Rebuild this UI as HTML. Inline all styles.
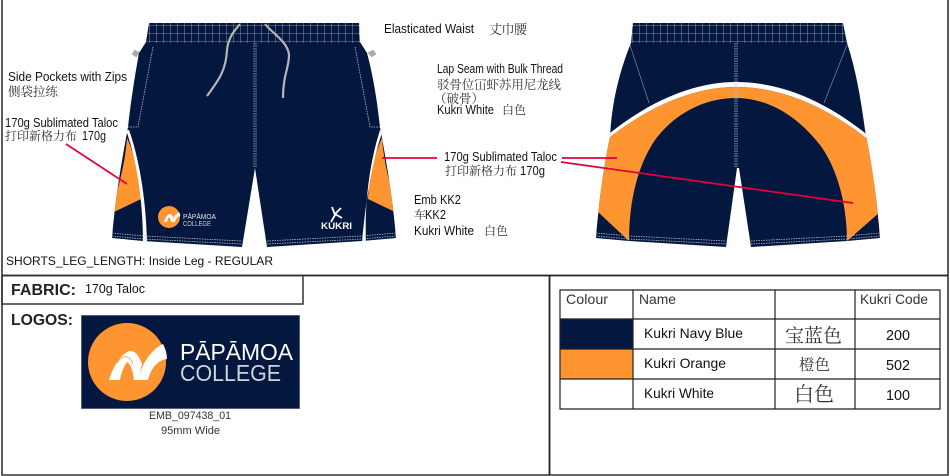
<!DOCTYPE html>
<html><head><meta charset="utf-8"><style>
html,body{margin:0;padding:0;background:#fff}
svg{display:block}
text{font-family:"Liberation Sans","Noto Sans CJK SC",sans-serif;fill:#111;font-size:13px}
.c{font-family:"Liberation Serif","Noto Serif CJK SC",serif;fill:#333}
.b{font-weight:bold;fill:#222}
.st{fill:none;stroke:#b4bbcb;stroke-width:.8;stroke-dasharray:1.500 1}
.gr{fill:none;stroke:#8d97ae;stroke-width:.6}
</style></head><body>
<svg width="950" height="476" viewBox="0 0 950 476" xmlns="http://www.w3.org/2000/svg">
<defs>
<pattern id="g" x="2" y="25" width="7" height="8" patternUnits="userSpaceOnUse"><path d="M0 0V8M0 0H7" stroke="#a8b0c4" stroke-width=".8" fill="none"/></pattern>
<clipPath id="fc"><path d="M149 23H359L360 42L367 53C373 75 377 100 380 127C387 165 393 200 396 238L362 241L267 247L255 168L242 247L143 241L112 238C115 200 121 165 128 127C131 100 135 75 139 53L146 42Z"/></clipPath>
<clipPath id="bc"><path d="M633 23H843L847 43C856 70 861 100 865 130C872 165 877 200 880 238L847 241L751 247L739 168H737L726 247L629 241L596 238C599 200 604 165 610 137C612 100 620 70 631 43Z"/></clipPath>
</defs>

<!-- frame -->
<path d="M2 0V475H948V0" fill="none" stroke="#333" stroke-width="1.600"/>
<path d="M2 275.500H948M549.500 275V475" fill="none" stroke="#222" stroke-width="1.800"/>
<rect x="2" y="275.500" width="301" height="28.500" fill="none" stroke="#333" stroke-width="1.500"/>

<!-- front shorts -->
<path d="M139 53l-4 -2l-2 3l3 2zM369 53l4 -2l2 3l-3 2z" fill="#aaa" stroke="#aaa" stroke-width="2"/>
<g clip-path="url(#fc)">
<rect x="100" y="15" width="310" height="240" fill="#03173f"/>
<rect x="145" y="23" width="218" height="20" fill="url(#g)"/>
<path d="M127 138C125 165 118 190 110 214L141 199C140 178 135 155 127 138Z" fill="#ff9530"/>
<path d="M382 138C384 165 391 190 399 214L368 199C369 178 374 155 382 138Z" fill="#ff9530"/>
<path d="M126 130C135 155 143 195 143 243H147C146 195 138 155 129 130Z" fill="#fff"/>
<path d="M383 130C374 155 366 195 362 243H366C364 195 372 155 380 130Z" fill="#fff"/>
</g>
<path d="M153 47L138 127H128M355 47L370 127H380" class="st"/>
<path d="M254 43V168M256 43V168" class="st"/>
<path d="M112 233L143 236L242 241M267 241L362 236L396 233M112 236L143 239L242 244M267 244L362 239L396 236" class="st"/>
<path d="M240 24C232 33 228 40 227 50C226 72 217 82 207 96" fill="none" stroke="#b5b5b5" stroke-width="2.200"/>
<path d="M265 24C273 34 288 42 289 55C289 68 283 75 283 98" fill="none" stroke="#b5b5b5" stroke-width="2.200"/>
<circle cx="169" cy="217" r="11" fill="#ff9530"/>
<g transform="translate(169 217) scale(.28) translate(-127 -362)" fill="#fff">
<path d="M109 380C113 367 120 355 129 351C135 350 139 356 142 364L138 380H134C133 372 131 364 127 362C124 366 121 373 120 380Z"/>
<path d="M138 380C141 366 150 350 163 344C165 348 167 353 167 359C158 360 151 368 148 380Z"/>
</g>
<text x="183" y="219" textLength="33" lengthAdjust="spacingAndGlyphs" style="fill:#e6e8ee;font-size:7px">PĀPĀMOA</text>
<text x="183" y="226" textLength="28" lengthAdjust="spacingAndGlyphs" style="fill:#c8ccd6;font-size:7px">COLLEGE</text>
<path d="M332 207L335 215L331 222M341 208L335 214L342 218" fill="none" stroke="#fff" stroke-width="1.800"/>
<text x="321" y="229" textLength="31" lengthAdjust="spacingAndGlyphs" class="b" style="fill:#fff;font-size:9.500px">KUKRI</text>

<!-- back shorts -->
<g clip-path="url(#bc)">
<rect x="590" y="15" width="300" height="240" fill="#03173f"/>
<rect x="628" y="23" width="220" height="20" fill="url(#g)"/>
<path d="M605 137C650 100 695 82 736 82C780 82 825 100 870 137V141C825 105 780 87 736 87C695 87 650 105 605 141Z" fill="#fff"/>
<path d="M605 141C650 105 695 87 736 87C780 87 825 105 870 141L880 212L847 241C847 200 835 165 820 145C795 113 765 98 736 98C705 98 675 113 655 140C638 165 629 200 629 241L598 212Z" fill="#ff9530"/>
</g>
<path d="M630 45L649 103M847 45L824 103" class="gr"/>
<path d="M735 43V168M737 43V168" class="st"/>
<path d="M596 233L629 236L726 241M751 241L847 236L880 233M596 236L629 239L726 244M751 244L847 239L880 236" class="st"/>

<!-- red leaders -->
<g fill="none" stroke="#e4003a" stroke-width="1.700">
<path d="M66 144L127 184"/>
<path d="M382 158H437"/>
<path d="M562 158H617"/>
<path d="M561 162L853 203"/>
</g>

<!-- annotations -->
<text x="384" y="33" textLength="90" lengthAdjust="spacingAndGlyphs">Elasticated Waist</text>
<text x="489" y="34" class="c" style="font-size:13px" textLength="38">丈巾腰</text>
<text x="437" y="73" textLength="126" lengthAdjust="spacingAndGlyphs">Lap Seam with Bulk Thread</text>
<text x="437" y="89" class="c" style="font-size:12.500px" textLength="124">驳骨位冚虾苏用尼龙线</text>
<text x="434" y="103" class="c" style="font-size:12.500px">（破骨）</text>
<text x="437" y="114" textLength="57" lengthAdjust="spacingAndGlyphs">Kukri White</text>
<text x="502" y="114" class="c" style="font-size:12px">白色</text>
<text x="444" y="161" textLength="113" lengthAdjust="spacingAndGlyphs">170g Sublimated Taloc</text>
<text x="445" y="175" class="c" style="font-size:12px">打印新格力布</text>
<text x="520" y="175" textLength="25" lengthAdjust="spacingAndGlyphs">170g</text>
<text x="414" y="204" textLength="47" lengthAdjust="spacingAndGlyphs">Emb KK2</text>
<text x="414" y="219" class="c" style="font-size:12px">车</text><text x="425" y="219" textLength="21" lengthAdjust="spacingAndGlyphs">KK2</text>
<text x="414" y="235" textLength="60" lengthAdjust="spacingAndGlyphs">Kukri White</text>
<text x="484" y="235" class="c" style="font-size:12px">白色</text>
<text x="8" y="81" textLength="119" lengthAdjust="spacingAndGlyphs">Side Pockets with Zips</text>
<text x="8" y="96" class="c" style="font-size:12.500px" textLength="50">侧袋拉练</text>
<text x="5" y="127" textLength="113" lengthAdjust="spacingAndGlyphs">170g Sublimated Taloc</text>
<text x="5" y="140" class="c" style="font-size:12px">打印新格力布</text>
<text x="82" y="140" textLength="24" lengthAdjust="spacingAndGlyphs">170g</text>
<text x="6" y="265" textLength="267" lengthAdjust="spacingAndGlyphs" style="font-size:12px">SHORTS_LEG_LENGTH: Inside Leg - REGULAR</text>

<!-- fabric / logos -->
<text x="11" y="295" class="b" style="font-size:16px" textLength="65" lengthAdjust="spacingAndGlyphs">FABRIC:</text>
<text x="85" y="293" textLength="60" lengthAdjust="spacingAndGlyphs">170g Taloc</text>
<text x="11" y="325" class="b" style="font-size:16px" textLength="62" lengthAdjust="spacingAndGlyphs">LOGOS:</text>
<rect x="81.500" y="315.500" width="218" height="93" fill="#03173f" stroke="#3d4d70" stroke-width=".7"/>
<circle cx="127" cy="362" r="39" fill="#ff9530"/>
<path d="M109 380C113 367 120 355 129 351C135 350 139 356 142 364L138 380H134C133 372 131 364 127 362C124 366 121 373 120 380Z" fill="#fff"/>
<path d="M138 380C141 366 150 350 163 344C165 348 167 353 167 359C158 360 151 368 148 380Z" fill="#fff"/>
<path d="M117 363C120 358 124 356 127 357C130 358 132 361 133 364" fill="none" stroke="#ff9530" stroke-width=".8"/>
<text x="180" y="360" textLength="113" lengthAdjust="spacingAndGlyphs" style="fill:#fff;font-size:23px">PĀPĀMOA</text>
<text x="180" y="381" textLength="101" lengthAdjust="spacingAndGlyphs" style="fill:#cfd3de;font-size:23px">COLLEGE</text>
<text x="149" y="419" textLength="82" lengthAdjust="spacingAndGlyphs" style="font-size:11px;fill:#333">EMB_097438_01</text>
<text x="161" y="434" textLength="59" lengthAdjust="spacingAndGlyphs" style="font-size:11px;fill:#333">95mm Wide</text>

<!-- colour table -->
<rect x="560" y="319" width="73" height="30" fill="#03173f"/>
<rect x="560" y="349" width="73" height="30" fill="#ff9530"/>
<path d="M560 290H940V409H560ZM560 319H940M560 349H940M560 379H940M633 290V409M775 290V409M855 290V409" fill="none" stroke="#222" stroke-width="1.200"/>
<text x="566" y="304" textLength="42" lengthAdjust="spacingAndGlyphs" style="font-size:14px;fill:#333">Colour</text>
<text x="639" y="304" textLength="37" lengthAdjust="spacingAndGlyphs" style="font-size:14px;fill:#333">Name</text>
<text x="860" y="304" textLength="68" lengthAdjust="spacingAndGlyphs" style="font-size:14px;fill:#333">Kukri Code</text>
<text x="644" y="338" textLength="99" lengthAdjust="spacingAndGlyphs" style="font-size:14px;-webkit-text-stroke:.2px #111">Kukri Navy Blue</text>
<text x="644" y="368" textLength="82" lengthAdjust="spacingAndGlyphs" style="font-size:14px;-webkit-text-stroke:.2px #111">Kukri Orange</text>
<text x="644" y="398" textLength="70" lengthAdjust="spacingAndGlyphs" style="font-size:14px;-webkit-text-stroke:.2px #111">Kukri White</text>
<text x="785" y="342" class="c" style="font-size:19px">宝蓝色</text>
<text x="799" y="370" class="c" style="font-size:15.500px">橙色</text>
<text x="794" y="401" class="c" style="font-size:20px">白色</text>
<text x="886" y="340" style="font-size:14.500px" textLength="24" lengthAdjust="spacingAndGlyphs">200</text>
<text x="886" y="370" style="font-size:14.500px" textLength="24" lengthAdjust="spacingAndGlyphs">502</text>
<text x="886" y="400" style="font-size:14.500px" textLength="24" lengthAdjust="spacingAndGlyphs">100</text>
</svg>
</body></html>
